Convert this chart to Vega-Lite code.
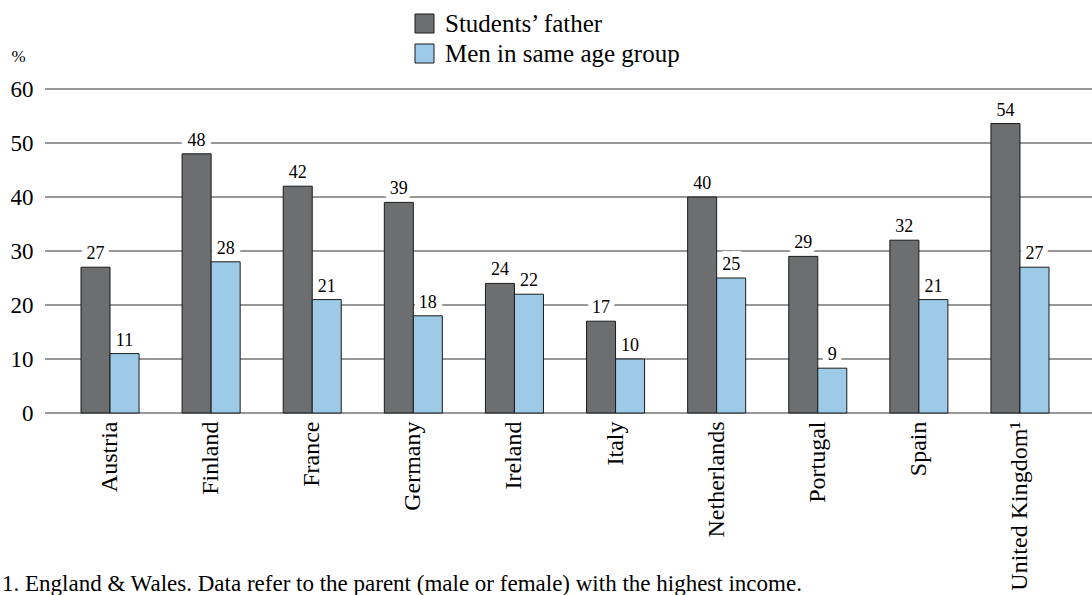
{
  "$schema": "https://vega.github.io/schema/vega-lite/v6.json",
  "width": 1047,
  "height": 324,
  "autosize": {"type": "none"},
  "padding": {"left": 45, "top": 89, "right": 0, "bottom": 182},
  "config": {
    "view": {"stroke": null},
    "font": "Liberation Serif",
    "title": {"font": "Liberation Serif", "fontWeight": "normal"}
  },
  "title": {
    "text": "1. England & Wales. Data refer to the parent (male or female) with the highest income.",
    "orient": "bottom",
    "anchor": "start",
    "frame": "group",
    "offset": -17,
    "dx": -43,
    "baseline": "top",
    "fontSize": 23,
    "fontWeight": "normal",
    "color": "#000000"
  },
  "data": {
    "values": [
      {"country": "Austria", "series": "Students’ father", "value": 27, "label": "27"},
      {"country": "Austria", "series": "Men in same age group", "value": 11, "label": "11"},
      {"country": "Finland", "series": "Students’ father", "value": 48, "label": "48"},
      {"country": "Finland", "series": "Men in same age group", "value": 28, "label": "28"},
      {"country": "France", "series": "Students’ father", "value": 42, "label": "42"},
      {"country": "France", "series": "Men in same age group", "value": 21, "label": "21"},
      {"country": "Germany", "series": "Students’ father", "value": 39, "label": "39"},
      {"country": "Germany", "series": "Men in same age group", "value": 18, "label": "18"},
      {"country": "Ireland", "series": "Students’ father", "value": 24, "label": "24"},
      {"country": "Ireland", "series": "Men in same age group", "value": 22, "label": "22"},
      {"country": "Italy", "series": "Students’ father", "value": 17, "label": "17"},
      {"country": "Italy", "series": "Men in same age group", "value": 10, "label": "10"},
      {"country": "Netherlands", "series": "Students’ father", "value": 40, "label": "40"},
      {"country": "Netherlands", "series": "Men in same age group", "value": 25, "label": "25"},
      {"country": "Portugal", "series": "Students’ father", "value": 29, "label": "29"},
      {"country": "Portugal", "series": "Men in same age group", "value": 8.3, "label": "9"},
      {"country": "Spain", "series": "Students’ father", "value": 32, "label": "32"},
      {"country": "Spain", "series": "Men in same age group", "value": 21, "label": "21"},
      {"country": "United Kingdom¹", "series": "Students’ father", "value": 53.6, "label": "54"},
      {"country": "United Kingdom¹", "series": "Men in same age group", "value": 27, "label": "27"}
    ]
  },
  "encoding": {
    "y": {
      "field": "value",
      "type": "quantitative",
      "scale": {"domain": [0, 60], "nice": false},
      "axis": {
        "values": [0, 10, 20, 30, 40, 50, 60],
        "title": "%",
        "titleAngle": 0,
        "titleX": -34,
        "titleY": -33,
        "titleAlign": "left",
        "titleBaseline": "middle",
        "titleFontSize": 17,
        "titleFontWeight": "normal",
        "titleColor": "#000000",
        "labelFontSize": 23,
        "labelColor": "#000000",
        "labelPadding": 12,
        "domain": false,
        "ticks": false,
        "grid": false
      }
    }
  },
  "layer": [
    {
      "data": {"values": [{"value": 0}, {"value": 10}, {"value": 20}, {"value": 30}, {"value": 40}, {"value": 50}, {"value": 60}]},
      "mark": {"type": "rule", "color": "#333333", "strokeWidth": 1.2}
    },
    {
      "mark": {"type": "text", "dy": -13, "baseline": "middle", "fontSize": 18, "stroke": "#ffffff", "strokeWidth": 12, "strokeJoin": "round", "fill": "#ffffff"},
      "encoding": {
        "x": {"field": "country", "type": "nominal", "sort": null, "scale": {"range": [36, 1004], "paddingInner": 0.426, "paddingOuter": 0}},
        "xOffset": {"field": "series", "type": "nominal", "sort": ["Students’ father", "Men in same age group"], "scale": {"paddingInner": 0, "paddingOuter": 0}},
        "text": {"field": "label"}
      }
    },
    {
      "mark": {"type": "bar", "stroke": "#1a1a1a", "strokeWidth": 1},
      "encoding": {
        "x": {
          "field": "country",
          "type": "nominal",
          "sort": null,
          "scale": {"range": [36, 1004], "paddingInner": 0.426, "paddingOuter": 0},
          "axis": {
            "title": null,
            "labelAngle": -90,
            "labelFontSize": 24,
            "labelColor": "#000000",
            "labelPadding": 8,
            "labelLimit": 0,
            "domain": false,
            "ticks": false
          }
        },
        "xOffset": {"field": "series", "type": "nominal", "sort": ["Students’ father", "Men in same age group"], "scale": {"paddingInner": 0, "paddingOuter": 0}},
        "color": {
          "field": "series",
          "type": "nominal",
          "sort": ["Students’ father", "Men in same age group"],
          "scale": {"domain": ["Students’ father", "Men in same age group"], "range": ["#6d6e70", "#9dcae6"]},
          "legend": {
            "orient": "none",
            "legendX": 367,
            "legendY": -78,
            "title": null,
            "symbolType": "square",
            "symbolSize": 361,
            "symbolStrokeColor": "#1a1a1a",
            "symbolStrokeWidth": 1,
            "symbolOpacity": 1,
            "labelFontSize": 25,
            "labelColor": "#000000",
            "labelOffset": 8,
            "labelLimit": 0,
            "rowPadding": 4
          }
        }
      }
    },
    {
      "mark": {"type": "text", "dy": -13, "baseline": "middle", "fontSize": 18, "fill": "#000000"},
      "encoding": {
        "x": {"field": "country", "type": "nominal", "sort": null, "scale": {"range": [36, 1004], "paddingInner": 0.426, "paddingOuter": 0}},
        "xOffset": {"field": "series", "type": "nominal", "sort": ["Students’ father", "Men in same age group"], "scale": {"paddingInner": 0, "paddingOuter": 0}},
        "text": {"field": "label"}
      }
    }
  ]
}
